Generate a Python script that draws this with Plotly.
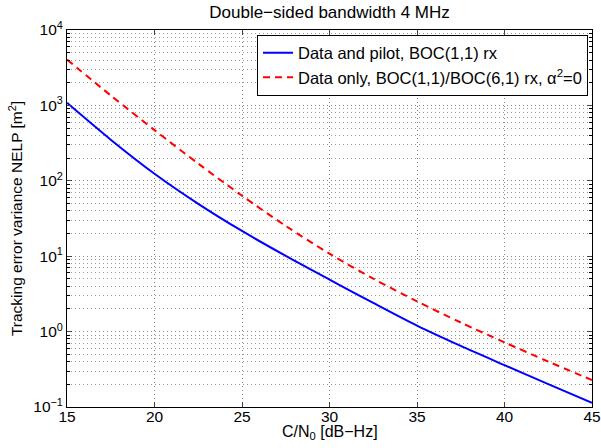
import plotly.graph_objects as go

cn0 = [15, 17.5, 20, 22.5, 25, 27.5, 30, 32.5, 35, 37.5, 40, 42.5, 45]
nelp_data_pilot = [1084, 351, 124, 49.5, 21.6, 10.1, 4.9, 2.4, 1.2, 0.645, 0.359, 0.201, 0.1135]
nelp_data_only = [4046, 1355, 470, 169, 63.4, 25.2, 10.8, 5.04, 2.52, 1.32, 0.72, 0.40, 0.2275]

x_ticks = [15, 20, 25, 30, 35, 40, 45]
y_ticks = [0.1, 1, 10, 100, 1000, 10000]
y_ticktext = ["10<sup>−1</sup>", "10<sup>0</sup>", "10<sup>1</sup>", "10<sup>2</sup>", "10<sup>3</sup>", "10<sup>4</sup>"]

font = "Liberation Sans, Arial, sans-serif"
grid_dash = "1px,3px"

fig = go.Figure()
fig.add_trace(go.Scatter(x=cn0, y=nelp_data_pilot, mode="lines",
                         line=dict(color="#0000ff", width=2, shape="spline", smoothing=0.8),
                         name="Data and pilot, BOC(1,1) rx"))
fig.add_trace(go.Scatter(x=cn0, y=nelp_data_only, mode="lines",
                         line=dict(color="#ff0000", width=2, dash="7px,5px", shape="spline", smoothing=0.8),
                         name="Data only, BOC(1,1)/BOC(6,1) rx, α<sup>2</sup>=0"))

fig.update_layout(
    template="none",
    width=601, height=448,
    margin=dict(l=67, r=8.5, t=30, b=41.3, autoexpand=False),
    paper_bgcolor="white", plot_bgcolor="white",
    font=dict(family=font, size=15.5, color="black"),
    title=dict(text="Double−sided bandwidth 4 MHz", x=0.5, xref="paper", xanchor="center",
               y=0.972, yref="container", yanchor="middle", pad=dict(t=0, b=0), font=dict(size=17)),
    legend=dict(x=0.9924, y=0.988, xanchor="right", yanchor="top",
                bordercolor="black", borderwidth=1, bgcolor="white",
                font=dict(size=16.5), tracegroupgap=0),
    showlegend=True,
    hovermode=False,
    annotations=[dict(text="C/N<sub>0</sub> [dB−Hz]", xref="paper", yref="paper",
                      x=0.5, y=-0.036, xanchor="center", yanchor="top", showarrow=False,
                      font=dict(size=16))],
)
fig.update_xaxes(
    range=[15, 45], tickvals=x_ticks, ticks="inside", ticklen=5, automargin=False,
    ticklabelstandoff=-5,
    showline=True, linecolor="black", linewidth=1, mirror="ticks",
    showgrid=True, gridcolor="#888888", griddash=grid_dash, gridwidth=1,
    zeroline=False, tickfont=dict(size=15.5),
)
fig.update_yaxes(
    type="log", range=[-1, 4], tickvals=y_ticks, ticktext=y_ticktext, automargin=False,
    ticks="inside", ticklen=5,
    showline=True, linecolor="black", linewidth=1, mirror="ticks",
    showgrid=True, gridcolor="#888888", griddash=grid_dash, gridwidth=1,
    minor=dict(dtick="D1", ticks="inside", ticklen=3, showgrid=True, gridcolor="#999999",
               griddash=grid_dash, gridwidth=1, tickcolor="black"),
    zeroline=False, tickfont=dict(size=15.5),
    title=dict(text="Tracking error variance NELP [m<sup>2</sup>]", standoff=6, font=dict(size=15.5)),
)

fig.write_html("out.html", config={"displayModeBar": False, "staticPlot": True},
               post_script="document.body.style.margin='0';document.body.style.overflow='hidden';")
